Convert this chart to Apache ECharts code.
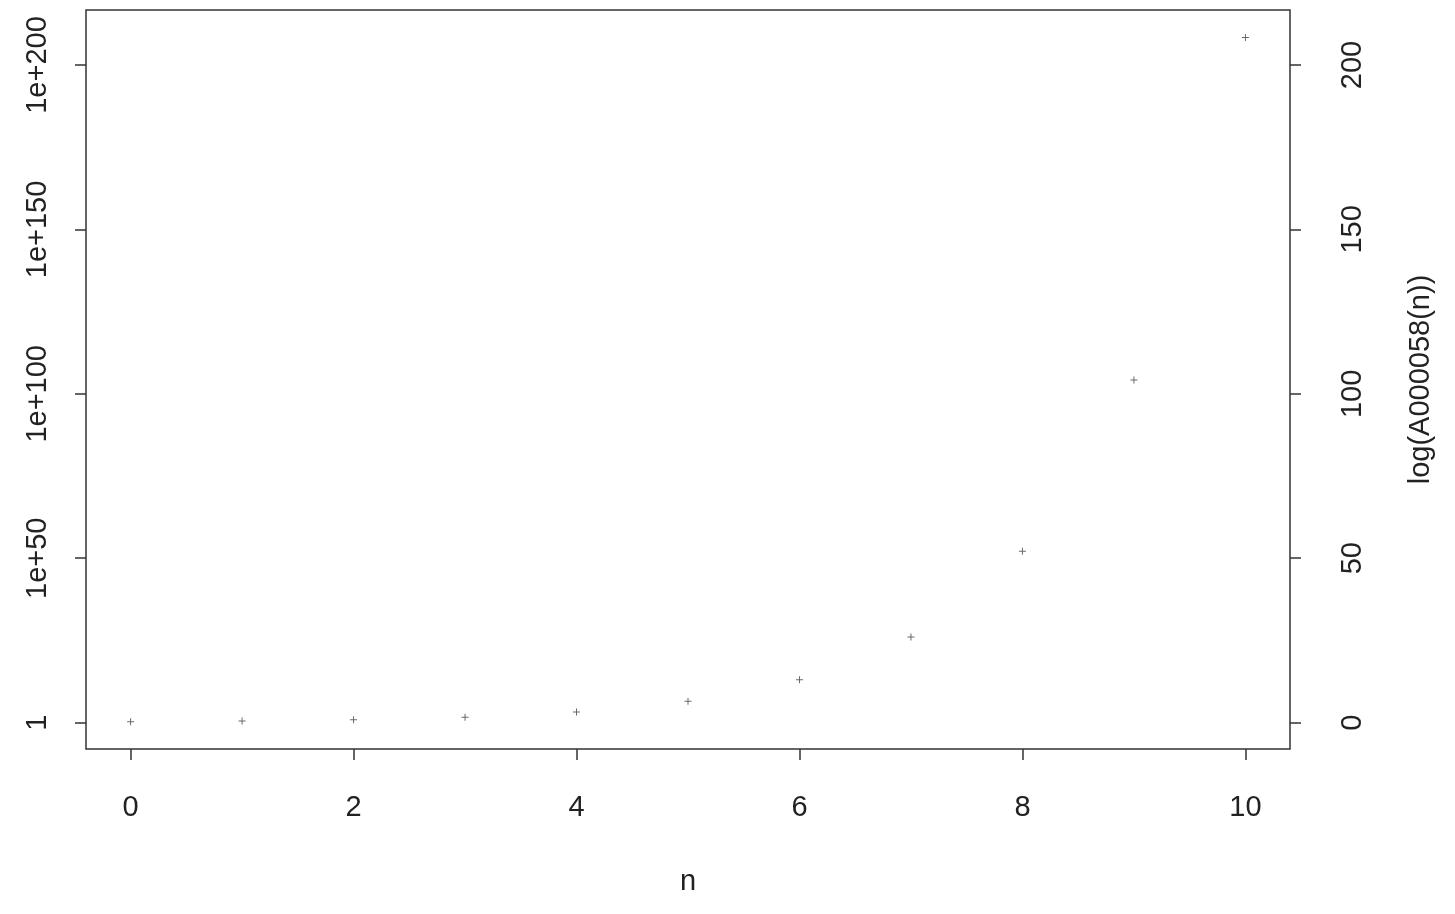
<!DOCTYPE html>
<html>
<head>
<meta charset="utf-8">
<script src="https://cdn.jsdelivr.net/npm/echarts@6/dist/echarts.min.js"></script>
<style>
html,body{margin:0;padding:0;background:#fff;}
#chart{width:1455px;height:914px;}
</style>
</head>
<body>
<div id="chart"></div>
<script>
// n values and log10(A000058(n))
const nValues = [0, 1, 2, 3, 4, 5, 6, 7, 8, 9, 10];
const logValues = [0.30, 0.48, 0.85, 1.63, 3.26, 6.51, 13.03, 26.05, 52.1, 104.2, 208.4];
const xTicks = [0, 2, 4, 6, 8, 10];
const yTicks = [0, 50, 100, 150, 200];
const leftTickLabels = ['1', '1e+50', '1e+100', '1e+150', '1e+200'];

const font = 'Liberation Sans, Arial, Helvetica, sans-serif';
const chart = echarts.init(document.getElementById('chart'));
const points = nValues.map((n, i) => [n, logValues[i]]);

const yCommon = {
  type: 'value',
  min: -8.02,
  max: 216.73,
  splitLine: {show: false},
  axisLine: {show: false, onZero: false},
  axisTick: {show: true, length: 11, lineStyle: {color: '#333', width: 1.5}, customValues: yTicks},
};

chart.setOption({
  animation: false,
  backgroundColor: '#fff',
  grid: {left: 86, right: 165, top: 10, bottom: 165, show: true, borderColor: '#333', borderWidth: 1.5, containLabel: false},
  xAxis: {
    type: 'value',
    min: -0.4,
    max: 10.4,
    name: 'n',
    nameLocation: 'middle',
    nameGap: 118,
    nameTextStyle: {fontFamily: font, fontSize: 29, color: '#222'},
    splitLine: {show: false},
    axisLine: {show: false, onZero: false},
    axisTick: {show: true, length: 11, lineStyle: {color: '#333', width: 1.5}, customValues: xTicks},
    axisLabel: {customValues: xTicks, margin: 44, fontFamily: font, fontSize: 29, color: '#222'}
  },
  yAxis: [
    Object.assign({}, yCommon, {
      position: 'left',
      axisLabel: {
        customValues: yTicks, rotate: 90, margin: 34, fontFamily: font, fontSize: 29, color: '#222',
        formatter: v => leftTickLabels[yTicks.indexOf(v)]
      }
    }),
    Object.assign({}, yCommon, {
      position: 'right',
      name: 'log(A000058(n))',
      nameLocation: 'middle',
      nameGap: 116,
      nameTextStyle: {fontFamily: font, fontSize: 29, color: '#222'},
      axisLabel: {customValues: yTicks, rotate: 90, margin: 48, fontFamily: font, fontSize: 29, color: '#222'}
    })
  ],
  series: [{
    type: 'scatter',
    yAxisIndex: 1,
    data: points,
    symbol: 'path://M3,0h1v3h3v1h-3v3h-1v-3h-3v-1h3z',
    symbolSize: 7,
    itemStyle: {color: '#444'},
    silent: true
  }]
});
</script>
</body>
</html>
